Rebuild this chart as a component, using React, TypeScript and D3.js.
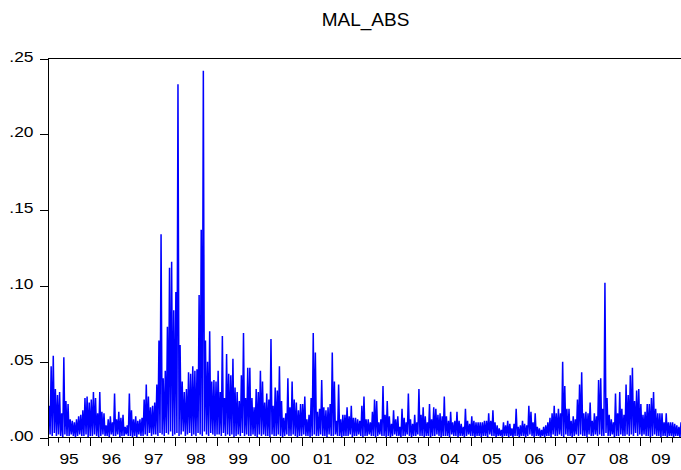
import React from "react";
import * as d3 from "d3";

// ---------- data (values in thousandths, i.e. 54 = .054) ----------
const chartTitle = "MAL_ABS";
const yearLabels = ["95", "96", "97", "98", "99", "00", "01", "02", "03", "04", "05", "06", "07", "08", "09"];
const firstYear = 1995;
const yTickValues = [0, 50, 100, 150, 200, 250];
const yTickLabels = [".00", ".05", ".10", ".15", ".20", ".25"];

// local peaks of the series (5 per quarter)
const peaks = [
  // 1995
  21, 47, 54, 32, 28, 30, 16, 53, 24, 22, 12, 11, 10, 12, 14, 15, 18, 26, 27, 23,
  // 1996
  25, 30, 26, 16, 30, 17, 16, 8, 12, 14, 10, 29, 12, 17, 13, 15, 7, 8, 29, 18,
  // 1997
  12, 14, 11, 12, 13, 25, 35, 27, 20, 21, 23, 35, 64, 134, 39, 44, 73, 112, 116, 84,
  // 1998
  96, 233, 61, 37, 30, 32, 43, 42, 47, 44, 45, 94, 137, 242, 64, 50, 70, 37, 38, 37,
  // 1999
  44, 30, 67, 26, 55, 42, 41, 52, 33, 30, 24, 41, 69, 26, 46, 46, 26, 20, 32, 30,
  // 2000
  44, 37, 23, 29, 25, 65, 21, 33, 31, 47, 24, 13, 16, 39, 20, 37, 25, 23, 18, 22,
  // 2001
  22, 27, 12, 15, 26, 69, 56, 17, 19, 38, 20, 18, 20, 22, 56, 37, 11, 35, 12, 15,
  // 2002
  15, 20, 14, 21, 13, 13, 12, 11, 21, 27, 12, 12, 10, 17, 25, 24, 10, 12, 34, 15,
  // 2003
  24, 14, 9, 18, 12, 14, 7, 19, 13, 10, 29, 12, 9, 15, 10, 32, 15, 20, 14, 10,
  // 2004
  22, 12, 20, 19, 15, 16, 14, 27, 14, 11, 17, 10, 11, 17, 11, 9, 7, 19, 11, 9,
  // 2005
  14, 11, 10, 10, 10, 10, 11, 11, 16, 11, 18, 10, 8, 6, 5, 10, 8, 11, 9, 6,
  // 2006
  9, 19, 7, 8, 11, 9, 8, 21, 17, 10, 16, 7, 6, 5, 7, 8, 10, 13, 16, 21,
  // 2007
  16, 19, 16, 50, 34, 19, 19, 11, 14, 12, 25, 35, 43, 16, 17, 16, 23, 11, 16, 14,
  // 2008
  38, 39, 19, 102, 26, 15, 12, 10, 29, 16, 30, 19, 15, 35, 28, 41, 46, 24, 31, 32,
  // 2009
  22, 15, 17, 22, 22, 26, 30, 19, 16, 16, 16, 10, 16, 10, 10, 10, 9, 8, 7, 10,
];

// near-zero lows that follow each peak
const troughs = [
  // 1995
  2, 1, 3, 1, 2, 1, 0, 2, 1, 1, 2, 1, 0, 1, 2, 1, 1, 2, 0, 1,
  // 1996
  1, 2, 1, 0, 1, 2, 1, 1, 0, 2, 1, 1, 2, 0, 1, 1, 2, 1, 1, 0,
  // 1997
  1, 0, 2, 1, 1, 2, 1, 3, 1, 2, 2, 1, 3, 2, 1, 3, 2, 4, 1, 2,
  // 1998
  3, 1, 2, 4, 1, 2, 3, 1, 2, 1, 3, 2, 1, 4, 2, 1, 3, 2, 1, 2,
  // 1999
  2, 1, 3, 1, 2, 1, 2, 0, 1, 2, 1, 3, 1, 2, 1, 1, 2, 1, 0, 2,
  // 2000
  1, 2, 1, 1, 0, 2, 1, 1, 2, 1, 0, 1, 2, 1, 1, 2, 1, 0, 1, 1,
  // 2001
  2, 1, 1, 0, 1, 2, 1, 1, 2, 1, 1, 0, 2, 1, 1, 2, 1, 1, 0, 1,
  // 2002
  1, 1, 2, 0, 1, 1, 2, 1, 0, 1, 1, 2, 1, 1, 0, 1, 2, 1, 1, 0,
  // 2003
  1, 0, 1, 2, 1, 1, 0, 1, 1, 2, 1, 0, 1, 1, 2, 1, 1, 0, 1, 1,
  // 2004
  0, 1, 1, 2, 1, 0, 1, 1, 1, 0, 2, 1, 1, 0, 1, 1, 0, 1, 2, 1,
  // 2005
  1, 0, 1, 1, 0, 1, 1, 0, 2, 1, 1, 0, 1, 1, 0, 1, 1, 0, 1, 0,
  // 2006
  1, 1, 0, 1, 1, 0, 1, 2, 1, 0, 1, 1, 0, 1, 0, 1, 1, 0, 2, 1,
  // 2007
  1, 2, 1, 0, 2, 1, 1, 0, 1, 2, 1, 2, 1, 1, 0, 2, 1, 1, 2, 1,
  // 2008
  2, 1, 1, 3, 1, 1, 2, 0, 1, 1, 2, 1, 1, 2, 1, 2, 1, 3, 1, 2,
  // 2009
  1, 2, 1, 1, 0, 1, 2, 1, 1, 0, 1, 1, 0, 1, 1, 0, 1, 1, 0, 1,
];

const firstObs = new Date(1995, 0, 10);
const lastObs = new Date(2009, 11, 31);

// ---------- layout ----------
const W = 681;
const H = 470;
const left = 48;
const right = 682.2;
const top = 58.5;
const bottom = 437.5;
const FONT = "'Liberation Sans', Arial, Helvetica, sans-serif";
const BLUE = "#0000ff";

export default function App() {
  const series: number[] = [];
  peaks.forEach((p, i) => {
    series.push(p);
    series.push(troughs[i]);
  });
  const n = series.length;

  const x = d3
    .scaleTime()
    .domain([new Date(firstYear, 0, 1), new Date(firstYear + yearLabels.length, 0, 1)])
    .range([left, right]);
  const y = d3.scaleLinear().domain([0, 250]).range([bottom, top]);
  const idxToTime = d3.scaleLinear().domain([0, n - 1]).range([+firstObs, +lastObs]);

  const line = d3
    .line<number>()
    .x((_, i) => x(new Date(idxToTime(i))))
    .y((d) => y(d));

  const quarterTicks = d3.timeMonth.range(
    new Date(firstYear, 0, 1),
    new Date(firstYear + yearLabels.length, 0, 2),
    3
  );

  return (
    <svg
      width={W}
      height={H}
      style={{ position: "absolute", left: 0, top: 0, background: "#fff" }}
      fontFamily={FONT}
    >
      <rect x={0} y={0} width={W} height={H} fill="#fff" />
      <text x={365.5} y={26} textAnchor="middle" fontSize={19} fill="#000">
        {chartTitle}
      </text>

      {/* data line */}
      <path
        d={line(series) || ""}
        fill="none"
        stroke={BLUE}
        strokeWidth={1.5}
        strokeLinejoin="bevel"
      />

      {/* frame */}
      <line x1={left + 0.5} x2={left + 0.5} y1={top} y2={bottom} stroke="#000" strokeWidth={1} />
      <line x1={left} x2={right} y1={top} y2={top} stroke="#000" strokeWidth={1} />
      <line x1={right} x2={right} y1={top} y2={bottom} stroke="#000" strokeWidth={1} />
      <line x1={left} x2={right} y1={bottom} y2={bottom} stroke="#000" strokeWidth={1} />

      {/* y axis */}
      {yTickValues.map((v, i) => (
        <g key={"y" + v}>
          <line x1={40} x2={left} y1={Math.round(y(v)) + 0.5} y2={Math.round(y(v)) + 0.5} stroke="#000" />
          <text
            transform={`translate(33.5, ${y(v) + 3}) scale(1.16,1)`}
            textAnchor="end"
            fontSize={15}
            fill="#000"
          >
            {yTickLabels[i]}
          </text>
        </g>
      ))}

      {/* x axis ticks */}
      {quarterTicks.map((d) => {
        const isYear = d.getMonth() === 0;
        const px = Math.round(x(d)) + 0.5;
        return (
          <line
            key={"q" + +d}
            x1={px}
            x2={px}
            y1={bottom}
            y2={isYear ? 446 : 442.5}
            stroke="#000"
          />
        );
      })}
      {yearLabels.map((lab, i) => {
        const cx = x(new Date(firstYear + i, 6, 2));
        return (
          <text
            key={"xl" + lab}
            transform={`translate(${cx}, 464) scale(1.16,1)`}
            textAnchor="middle"
            fontSize={15}
            fill="#000"
          >
            {lab}
          </text>
        );
      })}
    </svg>
  );
}
